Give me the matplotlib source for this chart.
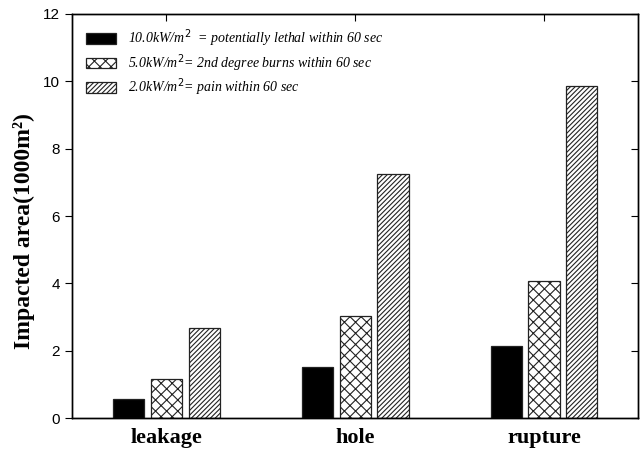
"""Impacted area by release scenario, grouped hatched bars."""

import matplotlib
matplotlib.use("Agg")
import matplotlib.pyplot as plt
import numpy as np

SCENARIOS = ["leakage", "hole", "rupture"]
LETHAL_10KW = [0.56, 1.53, 2.14]
BURNS_5KW = [1.16, 3.03, 4.07]
PAIN_2KW = [2.66, 7.25, 9.86]
SERIES_LABELS = [
    "10.0kW/m$^2$  = potentially lethal within 60 sec",
    "5.0kW/m$^2$= 2nd degree burns within 60 sec",
    "2.0kW/m$^2$= pain within 60 sec",
]
Y_TICKS = [0, 2, 4, 6, 8, 10, 12]


def main():
    plt.rcParams["hatch.linewidth"] = 0.8
    fig = plt.figure(figsize=(6.4, 4.5), dpi=100)
    ax = fig.add_axes([0.1125, 0.071, 0.885, 0.898])

    x = np.arange(len(SCENARIOS))
    width = 0.165
    series = [
        (LETHAL_10KW, "black", None),
        (BURNS_5KW, "white", "xxx"),
        (PAIN_2KW, "white", "///////"),
    ]
    for i, (values, color, hatch) in enumerate(series):
        ax.bar(x + (i - 1) * 0.2, values, width, color=color, hatch=hatch,
               edgecolor="#222222", linewidth=0.9, label=SERIES_LABELS[i])

    ax.set_xlim(-0.5, 2.5)
    ax.set_ylim(0, 12)
    ax.set_yticks(Y_TICKS)
    ax.set_xticks(x)
    ax.set_xticklabels(SCENARIOS, fontfamily="Liberation Serif", fontweight="bold", fontsize=16)
    ax.tick_params(axis="y", direction="out", length=5, labelsize=11)
    ax.tick_params(axis="x", bottom=False, top=True, direction="in", length=5, pad=7)
    for label in ax.get_yticklabels():
        label.set_fontfamily("Liberation Sans")

    # right-hand ticks point inward while the left ones point out
    right = ax.twinx()
    right.set_ylim(ax.get_ylim())
    right.set_yticks(Y_TICKS)
    right.tick_params(axis="y", direction="in", length=5, labelright=False)

    ax.set_ylabel("Impacted area(1000m\u00b2)", fontfamily="Liberation Serif",
                  fontweight="bold", fontsize=17)
    ax.yaxis.set_label_coords(-0.065, 0.463)

    ax.legend(loc="upper left", frameon=False, handlelength=2.2, handleheight=0.8,
              borderaxespad=0.6, labelspacing=0.2,
              prop={"family": "Liberation Serif", "style": "italic", "size": 10})
    for spine in list(ax.spines.values()) + list(right.spines.values()):
        spine.set_linewidth(1.0)

    fig.savefig("out.png", dpi=100)
    plt.close(fig)


if __name__ == "__main__":
    main()
